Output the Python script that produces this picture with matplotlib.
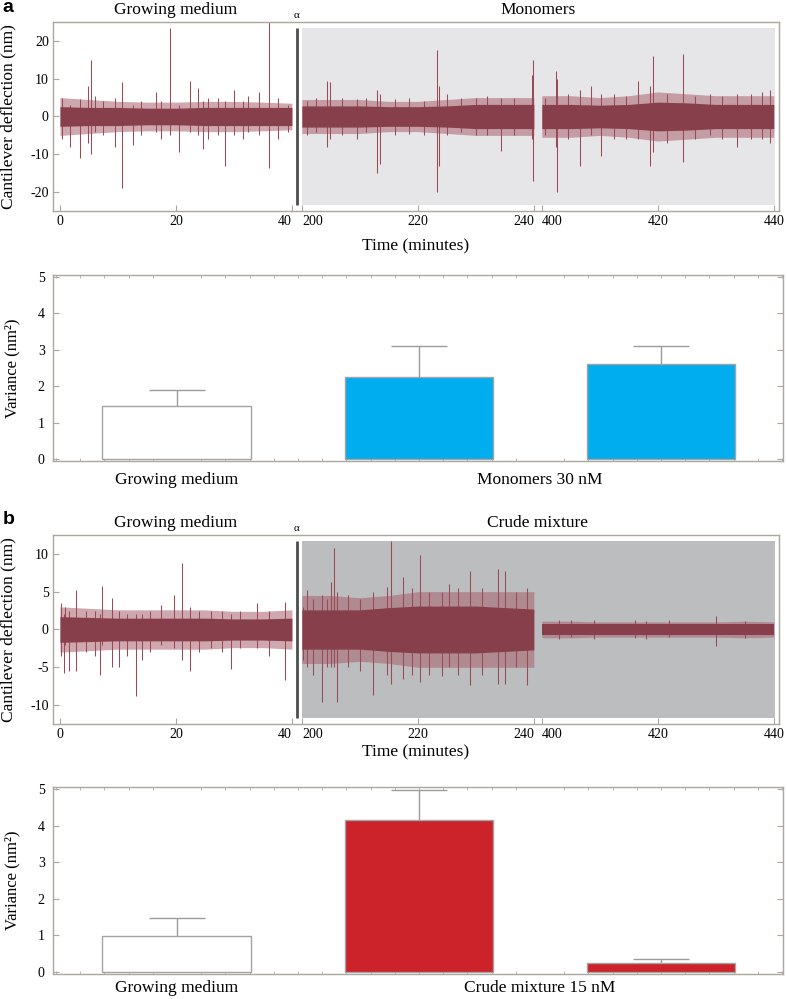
# AFM cantilever deflection traces and variance bars (panels a and b)
import numpy as np
import matplotlib.pyplot as plt
from matplotlib.transforms import blended_transform_factory

plt.rcParams['font.family'] = ['Liberation Serif', 'DejaVu Serif']
plt.rcParams['axes.unicode_minus'] = False

# broken time axis: three 40 minute windows
seg_start = [0, 200, 400]
seg_len = 40
seg_offset = [0, 41.72, 83.1]
tick_times = [0, 20, 40, 200, 220, 240, 400, 420, 440]
env_rel = [0, 5, 10, 15, 20, 25, 30, 35, 40]

# panel a: noise envelope (half widths, nm) read every 5 min per window
a_outer = [[5.0, 4.5, 4.0, 3.8, 3.8, 4.0, 4.0, 3.8, 3.5],
           [4.5, 4.5, 4.5, 4.0, 4.0, 4.5, 5.0, 5.0, 5.0],
           [5.5, 5.5, 5.0, 5.5, 6.5, 6.0, 5.5, 5.5, 5.5]]
a_core = [[2.6, 2.4, 2.4, 2.2, 2.2, 2.4, 2.4, 2.4, 2.4],
          [2.8, 2.8, 2.8, 2.6, 2.6, 2.8, 3.2, 3.2, 3.2],
          [3.2, 3.2, 3.0, 3.2, 3.8, 3.6, 3.2, 3.2, 3.2]]
# panel a: individual spikes (time, top, bottom)
a_spk_t = [0.3, 1.8, 3.4, 4.9, 5.3, 6.1, 7.5, 9.5, 10.7, 12.6, 14.0, 16.6, 17.5, 18.9,
           20.5, 22.5, 23.8, 24.6, 25.5, 27.3, 28.5, 30.1, 31.5, 32.4, 34.4, 36.0, 37.6, 39.3,
           200.8, 202.5, 204.4, 204.8, 207.0, 209.5, 211.0, 213.0, 213.4, 216.0, 218.5, 221.0,
           223.3, 223.6, 225.0, 227.5, 230.0, 232.0, 234.4, 236.5, 239.6, 239.9,
           400.5, 402.5, 402.7, 404.5, 406.5, 408.4, 410.2, 412.5, 414.5, 416.6, 418.6, 419.2,
           421.5, 424.3, 426.5, 429.0, 431.0, 433.6, 436.0, 438.0, 439.4]
a_spk_hi = [5, 3, 4.5, 8, 15, 5.5, 4, 5, 9, 3, 4, 6.5, 4, 23.5,
            3, 9.5, 7.5, 4, 5, 5, 4, 7, 4, 5.5, 6.5, 26, 5, 3,
            4, 5, 9.5, 9, 5, 4.5, 5, 7, 6, 4.5, 5, 4,
            17.5, 8, 6, 5, 5, 5.5, 5, 5, 11, 15,
            5, 12, 10, 6, 7, 8, 6, 6, 5.5, 9.5, 8, 16,
            6, 16.5, 5.5, 6, 5.5, 6, 6, 6.5, 7]
a_spk_lo = [-6, -8, -11, -7, -10, -4, -5, -8, -19, -7.5, -5, -4, -6, -5,
            -9.5, -4, -5, -8.5, -6, -5, -13, -5, -6, -4, -5, -13.5, -6, -4,
            -5, -4, -8, -6, -5, -6, -4, -15, -12.5, -5, -4.5, -5,
            -20, -13, -5, -4, -5, -5, -9, -5, -6, -17,
            -5, -8, -20, -6, -13, -5, -10.5, -6, -6, -6, -13, -9.5,
            -7, -12, -6, -5, -6, -8, -6, -6, -7]

# panel b: noise envelope
b_outer = [[3.0, 2.8, 2.6, 2.6, 2.6, 2.6, 2.4, 2.4, 2.6],
           [4.5, 4.5, 4.2, 4.5, 5.0, 5.0, 5.0, 5.0, 5.0],
           [1.1, 1.1, 1.0, 1.0, 1.0, 1.0, 1.0, 1.1, 1.0]]
b_core = [[1.7, 1.6, 1.5, 1.5, 1.5, 1.5, 1.4, 1.4, 1.5],
          [2.6, 2.6, 2.6, 2.9, 3.1, 3.1, 3.1, 2.9, 2.7],
          [0.7, 0.7, 0.7, 0.7, 0.7, 0.7, 0.7, 0.7, 0.7]]
b_spk_t = [0.1, 0.7, 0.9, 1.5, 2.8, 4.5, 6.0, 6.9, 7.2, 9.0, 10.1, 11.5, 13.2, 14.2,
           15.5, 17.4, 19.7, 21.1, 22.5, 24.0, 26.0, 28.0, 29.5, 31.0, 34.0, 36.0, 38.8,
           200.2, 200.9, 202.0, 203.5, 204.4, 205.0, 205.6, 206.0, 208.0, 210.0, 212.3, 214.7,
           215.4, 217.5, 219.0, 220.4, 222.0, 224.2, 225.3, 227.0, 229.0, 231.0, 233.9, 235.1,
           237.0, 238.9,
           403.0, 405.0, 409.0, 416.0, 418.0, 422.0, 430.0, 435.0]
b_spk_hi = [3.5, 2, 3, 2.5, 5.2, 2.5, 2.5, 2, 5.8, 4.1, 2.5, 2, 2, 2,
            2.5, 3.3, 4.5, 8.8, 3, 2.5, 2.5, 2.5, 2, 2.5, 3.5, 2.5, 3.6,
            3, 5.2, 4, 4.5, 4, 6.3, 10.8, 5, 4.5, 4, 5, 5.6,
            11.7, 7, 5.5, 9.9, 5, 5, 6, 5.5, 7.7, 5.5, 8, 7.7,
            5, 5.5,
            1.2, 1.3, 1.2, 1.3, 1.1, 1.2, 1.8, 1.1]
b_spk_lo = [-3.5, -5.7, -2, -5.5, -5.5, -3, -3.5, -6, -2, -5, -5, -3.5, -8.8, -4,
            -3, -2, -2.5, -4, -5.5, -3, -2.5, -3, -5.2, -2.5, -2.5, -3.5, -6.7,
            -4, -5, -6, -9.6, -5, -5, -5, -9.6, -5, -5.5, -8.7, -6,
            -7.2, -6.6, -6, -7, -6, -6.1, -5, -6, -7.3, -6, -7.2, -7.2,
            -5, -7.3,
            -1.3, -1, -1.2, -1.1, -1.3, -1, -2.2, -1.1]

# variance bars
bar_a_vals = [1.45, 2.25, 2.6]
bar_a_errs = [1.9, 3.1, 3.1]
bar_b_vals = [0.97, 4.15, 0.25]
bar_b_errs = [1.48, 4.97, 0.35]

frame_col = '#aaa7a0'
trace_dark = '#87404b'
trace_light = '#a8606c'


def to_u(t):
    t = np.asarray(t, float)
    u = np.empty_like(t)
    for s, o in zip(seg_start, seg_offset):
        m = (t >= s) & (t <= s + seg_len)
        u[m] = t[m] - s + o
    return u


def style_frame(ax):
    for sp in ax.spines.values():
        sp.set_color(frame_col)
        sp.set_linewidth(1.0)


def draw_trace(ax, outer, core, spk_t, spk_hi, spk_lo, ylim, yticks, shade, titles, xlabel_y):
    ax.set_xlim(-1.2, 124.0)
    ax.set_ylim(-ylim, ylim)
    top = ylim * 0.935
    x0 = to_u([200])[0]
    x1 = to_u([440])[0] + 0.2
    ax.fill_between([x0, x1], -top, top, color=shade, lw=0, zorder=0)
    ax.vlines((to_u([40])[0] + x0) / 2, -top, top, color='#4d4d4d', lw=2, zorder=1)
    for i, s in enumerate(seg_start):
        u = to_u(np.array(env_rel) + s)
        ax.fill_between(u, -np.array(outer[i]), outer[i], color=trace_light,
                        alpha=0.55, lw=0, zorder=2)
        ax.fill_between(u, -np.array(core[i]), core[i], color=trace_dark, lw=0, zorder=3)
    ax.vlines(to_u(spk_t), spk_lo, spk_hi, color='#9a4a57', lw=0.75, zorder=2)

    ax.set_xticks(to_u(tick_times))
    ax.set_xticklabels([str(t) for t in tick_times])
    for t, lab in zip(tick_times, ax.get_xticklabels()):
        if t in (40, 240):
            lab.set_horizontalalignment('right')
        elif t in (200, 400):
            lab.set_horizontalalignment('left')
    ax.set_yticks(yticks)
    ax.set_yticklabels([str(v) for v in yticks])
    ax.tick_params(direction='in', length=4, width=0.8, color=frame_col,
                   labelsize=10, pad=3)
    style_frame(ax)
    ax.set_ylabel('Cantilever deflection (nm)', fontsize=12.5)
    ax.yaxis.set_label_coords(-0.051, 0.5)
    ax.set_xlabel('Time (minutes)', fontsize=12.5, va='top')
    ax.xaxis.set_label_coords(0.5, xlabel_y)

    tr = blended_transform_factory(ax.transData, ax.transAxes)
    ax.text(20, 1.065, titles[0], transform=tr, ha='center', va='center', fontsize=12.5)
    ax.text((x0 + to_u([440])[0]) / 2, 1.065, titles[1], transform=tr,
            ha='center', va='center', fontsize=12.5)
    ax.text((to_u([40])[0] + x0) / 2, 1.035, '\u03b1', transform=tr,
            ha='center', va='center', fontsize=8)


def draw_bars(ax, vals, errs, colors, labels, label_pad):
    x = np.arange(len(vals))
    ax.bar(x, vals, width=0.615, color=colors, edgecolor='#a3a3a3', lw=1, zorder=2)
    ax.vlines(x, vals, errs, color='#9c9c9c', lw=1, zorder=1)
    ax.hlines(errs, x - 0.117, x + 0.117, color='#9c9c9c', lw=1, zorder=1)
    ax.set_xlim(-0.512, 2.504)
    ax.set_ylim(-0.055, 5.055)
    ax.set_yticks(range(6))
    ax.set_xticks([0, 1.5])
    ax.set_xticklabels(labels, fontsize=12.5)
    ax.set_xticks(np.arange(-0.5, 2.51, 0.1), minor=True)
    ax.tick_params(axis='x', which='major', length=0, pad=label_pad)
    ax.tick_params(axis='x', which='minor', direction='in', length=2.5,
                   color=frame_col, top=True, bottom=True)
    ax.tick_params(axis='y', direction='in', length=4, color=frame_col,
                   labelsize=10, pad=6, right=True)
    style_frame(ax)
    ax.set_ylabel('Variance (nm\u00b2)', fontsize=12)
    ax.yaxis.set_label_coords(-0.045, 0.5)


fig = plt.figure(figsize=(7.87, 9.99), dpi=100)

ax1 = fig.add_axes([0.06734, 0.78879, 0.92249, 0.18919])
draw_trace(ax1, a_outer, a_core, a_spk_t, a_spk_hi, a_spk_lo, 25, [-20, -10, 0, 10, 20],
           '#e6e6e8', ['Growing medium', 'Monomers'], -0.143)

ax2 = fig.add_axes([0.06734, 0.53854, 0.92757, 0.18619])
draw_bars(ax2, bar_a_vals, bar_a_errs, ['white', '#00aeef', '#00aeef'],
          ['Growing medium', 'Monomers 30 nM'], 8)

ax3 = fig.add_axes([0.06734, 0.27528, 0.92249, 0.18919])
draw_trace(ax3, b_outer, b_core, b_spk_t, b_spk_hi, b_spk_lo, 12.5, [-10, -5, 0, 5, 10],
           '#bbbdbf', ['Growing medium', 'Crude mixture'], -0.106)

ax4 = fig.add_axes([0.06734, 0.02503, 0.92757, 0.18719])
draw_bars(ax4, bar_b_vals, bar_b_errs, ['white', '#cc2229', '#cc2229'],
          ['Growing medium', 'Crude mixture 15 nM'], 4)

fig.text(0.003, 1 - 8 / 999, 'a', fontsize=14, fontweight='bold',
         family='Liberation Sans', va='center')
fig.text(0.003, 1 - 520 / 999, 'b', fontsize=14, fontweight='bold',
         family='Liberation Sans', va='center')

fig.savefig('out.png', dpi=100)
